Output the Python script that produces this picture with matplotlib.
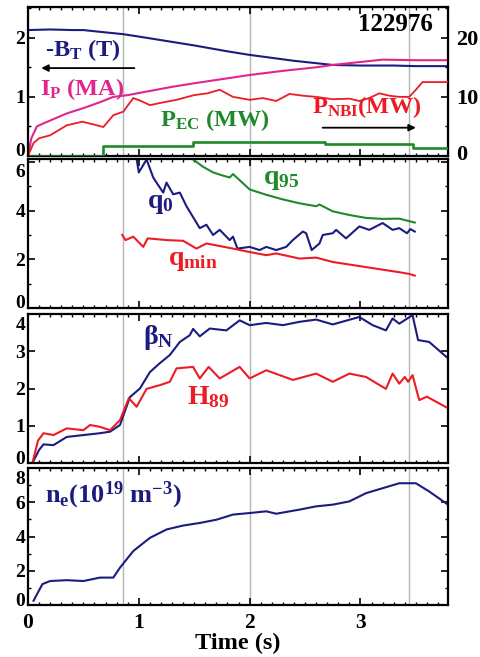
import matplotlib
matplotlib.use('Agg')
import matplotlib.pyplot as plt
from matplotlib.ticker import MultipleLocator
from matplotlib.transforms import ScaledTranslation

plt.rcParams['font.family'] = 'serif'
plt.rcParams['font.serif'] = ['Liberation Serif', 'DejaVu Serif']
plt.rcParams['font.weight'] = 'bold'
plt.rcParams['mathtext.fontset'] = 'custom'
plt.rcParams['mathtext.rm'] = 'Liberation Serif:bold'
plt.rcParams['mathtext.it'] = 'Liberation Serif:italic:bold'
plt.rcParams['mathtext.bf'] = 'Liberation Serif:bold'

NAVY = '#1c1c7e'
MAGENTA = '#e0268c'
RED = '#ec1c24'
GREEN = '#1f8a2a'
GRAY = '#b4b4b4'

# ---- panel 1: toroidal field, plasma current, heating powers ----
bt_t = [0.0, 0.2, 0.4, 0.5, 0.6, 0.86, 1.0, 1.2, 1.5, 1.8, 2.0, 2.2, 2.4, 2.6, 2.75, 3.0, 3.3, 3.5, 3.79]
bt_v = [2.13, 2.14, 2.13, 2.13, 2.11, 2.06, 2.02, 1.96, 1.87, 1.77, 1.71, 1.66, 1.61, 1.57, 1.54, 1.53, 1.53, 1.52, 1.52]

ip_t = [0.0, 0.03, 0.08, 0.15, 0.25, 0.35, 0.5, 0.65, 0.77, 0.9, 1.1, 1.3, 1.5, 1.75, 2.0, 2.3, 2.6, 2.75, 3.0, 3.2, 3.5, 3.79]
ip_v = [0.0, 0.3, 0.5, 0.56, 0.64, 0.72, 0.81, 0.91, 1.0, 1.03, 1.1, 1.17, 1.23, 1.3, 1.37, 1.44, 1.5, 1.54, 1.59, 1.63, 1.62, 1.62]

# right axis, MW
nbi_t = [0.0, 0.05, 0.1, 0.2, 0.35, 0.49, 0.6, 0.68, 0.77, 0.86, 0.95, 1.02, 1.1, 1.2, 1.34, 1.5, 1.62, 1.73, 1.85, 2.0,
         2.12, 2.24, 2.36, 2.48, 2.6, 2.75, 2.9, 2.99, 3.08, 3.17, 3.26, 3.35, 3.44, 3.5, 3.56, 3.79]
nbi_v = [0.0, 2.2, 3.0, 3.5, 5.2, 5.8, 5.3, 4.9, 6.9, 7.5, 9.8, 9.3, 8.6, 9.0, 9.5, 10.3, 10.6, 11.2, 10.0, 9.5,
         9.8, 9.3, 10.5, 10.2, 10.0, 9.6, 9.7, 9.3, 9.8, 10.6, 10.2, 10.0, 10.0, 11.2, 12.5, 12.5]

ec_t = [0.0, 0.68, 0.68, 1.49, 1.49, 2.68, 2.68, 3.47, 3.47, 3.79]
ec_v = [0.0, 0.0, 1.7, 1.7, 2.3, 2.3, 2.0, 2.0, 1.3, 1.3]

# ---- panel 2: safety factor ----
q95_t = [1.49, 1.58, 1.67, 1.75, 1.82, 1.85, 2.0, 2.15, 2.3, 2.45, 2.6, 2.63, 2.75, 2.9, 3.05, 3.2, 3.35, 3.49]
q95_v = [6.1, 5.8, 5.57, 5.45, 5.36, 5.5, 4.87, 4.65, 4.46, 4.3, 4.18, 4.25, 3.97, 3.82, 3.7, 3.66, 3.67, 3.51]

q0_t = [0.98, 1.0, 1.07, 1.13, 1.17, 1.22, 1.25, 1.31, 1.37, 1.43, 1.55, 1.61, 1.67, 1.73, 1.82, 1.85, 1.89, 2.0,
        2.09, 2.15, 2.24, 2.33, 2.39, 2.48, 2.51, 2.56, 2.63, 2.66, 2.75, 2.78, 2.87, 2.99, 3.08, 3.2, 3.29, 3.35,
        3.42, 3.45, 3.49]
q0_v = [6.13, 5.57, 6.1, 5.36, 5.08, 4.74, 5.15, 4.67, 4.74, 4.18, 3.28, 3.42, 3.0, 3.21, 2.79, 2.93, 2.44, 2.51,
        2.38, 2.51, 2.38, 2.51, 2.79, 3.14, 3.07, 2.38, 2.65, 3.0, 3.07, 3.21, 2.86, 3.35, 3.21, 3.49, 3.21, 3.28,
        3.07, 3.24, 3.14]

qmin_t = [0.85, 0.88, 0.95, 1.04, 1.08, 1.25, 1.4, 1.52, 1.61, 1.85, 2.0, 2.15, 2.24, 2.45, 2.6, 2.75, 3.05, 3.35, 3.44, 3.49]
qmin_v = [3.0, 2.79, 2.93, 2.51, 2.86, 2.79, 2.76, 2.44, 2.65, 2.44, 2.3, 2.17, 2.24, 2.03, 2.07, 1.89, 1.68, 1.47, 1.4, 1.33]

# ---- panel 3: normalised beta and confinement factor ----
bn_t = [0.04, 0.1, 0.14, 0.23, 0.35, 0.5, 0.65, 0.74, 0.83, 0.92, 1.01, 1.1, 1.19, 1.28, 1.37, 1.46, 1.49, 1.55, 1.64,
        1.79, 1.91, 2.0, 2.15, 2.3, 2.45, 2.6, 2.75, 2.99, 3.11, 3.23, 3.29, 3.35, 3.47, 3.52, 3.62, 3.79]
bn_v = [0.0, 0.35, 0.5, 0.48, 0.7, 0.75, 0.8, 0.84, 1.02, 1.77, 2.0, 2.44, 2.68, 2.9, 3.25, 3.43, 3.6, 3.4, 3.61,
        3.56, 3.83, 3.7, 3.76, 3.7, 3.79, 3.85, 3.72, 3.92, 3.7, 3.56, 3.88, 3.74, 3.97, 3.3, 3.25, 2.81]

h89_t = [0.04, 0.09, 0.14, 0.23, 0.35, 0.5, 0.56, 0.65, 0.74, 0.83, 0.91, 0.98, 1.07, 1.19, 1.28, 1.34, 1.49, 1.55,
         1.63, 1.73, 1.91, 2.0, 2.15, 2.39, 2.6, 2.75, 2.9, 3.05, 3.23, 3.29, 3.35, 3.4, 3.43, 3.47, 3.53, 3.6, 3.79]
h89_v = [0.0, 0.6, 0.8, 0.75, 0.93, 0.88, 1.02, 0.97, 0.88, 1.15, 1.74, 1.51, 1.99, 2.09, 2.18, 2.54, 2.58, 2.27,
         2.58, 2.27, 2.58, 2.27, 2.49, 2.23, 2.4, 2.18, 2.4, 2.31, 1.99, 2.4, 2.13, 2.31, 2.18, 2.36, 1.69, 1.78, 1.47]

# ---- panel 4: electron density ----
ne_t = [0.05, 0.13, 0.2, 0.35, 0.5, 0.65, 0.77, 0.83, 0.95, 1.1, 1.25, 1.4, 1.55, 1.7, 1.85, 2.0, 2.15, 2.24, 2.45,
        2.6, 2.75, 2.9, 3.05, 3.2, 3.35, 3.5, 3.62, 3.79]
ne_v = [0.25, 1.22, 1.4, 1.45, 1.4, 1.6, 1.6, 2.18, 3.15, 3.92, 4.41, 4.64, 4.79, 4.98, 5.28, 5.37, 5.47, 5.33, 5.57,
        5.76, 5.86, 6.05, 6.53, 6.82, 7.11, 7.11, 6.63, 5.86]

event_times = [0.86, 2.0, 3.44]
x_ticks = [0, 1, 2, 3]

W, H = 481, 657
fig = plt.figure(figsize=(W / 100, H / 100), dpi=100)


def add_panel(top, bottom):
    return fig.add_axes([28 / W, (H - bottom) / H, 420 / W, (bottom - top) / H])


def nudge(lab, dy):
    # shift a tick label by dy pixels (positive = up)
    lab.set_transform(lab.get_transform() + ScaledTranslation(0, dy / 100, fig.dpi_scale_trans))


def style(ax, yticks, yminor, labels_bottom=False, right=True, top_nudge=True):
    ax.set_xlim(0, 3.79)
    ax.set_xticks(x_ticks)
    ax.xaxis.set_minor_locator(MultipleLocator(0.1))
    ax.set_yticks(yticks)
    if yminor:
        ax.yaxis.set_minor_locator(MultipleLocator(yminor))
    ax.tick_params(which='both', direction='in', top=True, right=right, labelsize=14, pad=2)
    ax.tick_params(which='major', length=5, width=1.2)
    ax.tick_params(which='minor', length=2, width=1)
    ax.tick_params(axis='x', labelbottom=labels_bottom, pad=6, labelsize=15.5)
    for s in ax.spines.values():
        s.set_linewidth(1.6)
    for t in event_times:
        ax.axvline(t, color=GRAY, lw=1, zorder=0)
    labs = ax.get_yticklabels()
    for lab in labs + ax.get_xticklabels():
        lab.set_fontweight('bold')
    nudge(labs[0], 6)
    if top_nudge:
        nudge(labs[-1], -9)


ax1 = add_panel(7, 156)
ax2 = add_panel(159, 308)
ax3 = add_panel(314, 463)
ax4 = add_panel(468, 605)

# panel 1
ax1.set_ylim(0, 2.52)
style(ax1, [0, 1, 2], 0.5, right=False, top_nudge=False)
ax1.plot(bt_t, bt_v, color=NAVY, lw=1.5)
ax1.plot(ip_t, ip_v, color=MAGENTA, lw=1.5)
ax1r = ax1.twinx()
ax1r.set_ylim(0, 25.2)
ax1r.set_yticks([0, 10, 20])
ax1r.yaxis.set_minor_locator(MultipleLocator(5))
ax1r.tick_params(which='both', direction='in', labelsize=16, pad=6)
ax1r.tick_params(which='major', length=5, width=1.2)
ax1r.tick_params(which='minor', length=2, width=1)
for lab in ax1r.get_yticklabels():
    lab.set_fontweight('bold')
nudge(ax1r.get_yticklabels()[0], 4)
ax1r.plot(nbi_t, nbi_v, color=RED, lw=1.3)
ax1r.plot(ec_t, ec_v, color=GREEN, lw=1.9)
ax1.text(0.965, 0.88, '122976', transform=ax1.transAxes, ha='right', va='center', fontsize=18, color='black')
ax1.text(0.04, 0.71, r'-B$_\mathrm{T}$ (T)', transform=ax1.transAxes, ha='left', va='center', fontsize=17.5, color=NAVY)
ax1.annotate('', xy=(0.025, 0.59), xytext=(0.26, 0.59), xycoords='axes fraction',
             arrowprops=dict(arrowstyle='-|>', color='black', lw=1.3, mutation_scale=10))
ax1.text(0.028, 0.45, r'I$_\mathrm{P}$ (MA)', transform=ax1.transAxes, ha='left', va='center', fontsize=17.5, color=MAGENTA)
ax1.text(0.314, 0.24, r'P$_\mathrm{EC}$ (MW)', transform=ax1.transAxes, ha='left', va='center', fontsize=17.5, color=GREEN)
ax1.text(0.676, 0.33, r'P$_\mathrm{NBI}$(MW)', transform=ax1.transAxes, ha='left', va='center', fontsize=17.5, color=RED)
ax1.annotate('', xy=(0.93, 0.19), xytext=(0.695, 0.19), xycoords='axes fraction',
             arrowprops=dict(arrowstyle='-|>', color='black', lw=1.3, mutation_scale=10))

# panel 2
ax2.set_ylim(0, 6.12)
style(ax2, [0, 2, 4, 6], 1)
ax2.plot(q95_t, q95_v, color=GREEN, lw=1.5)
ax2.plot(q0_t, q0_v, color=NAVY, lw=1.5)
ax2.plot(qmin_t, qmin_v, color=RED, lw=1.5)
ax2.text(0.56, 0.86, r'q$_\mathrm{95}$', transform=ax2.transAxes, ha='left', va='center', fontsize=20, color=GREEN)
ax2.text(0.283, 0.70, r'q$_\mathrm{0}$', transform=ax2.transAxes, ha='left', va='center', fontsize=20, color=NAVY)
ax2.text(0.333, 0.32, r'q$_\mathrm{min}$', transform=ax2.transAxes, ha='left', va='center', fontsize=20, color=RED)

# panel 3
ax3.set_ylim(0, 4.0)
style(ax3, [0, 1, 2, 3, 4], None)
ax3.plot(bn_t, bn_v, color=NAVY, lw=1.5)
ax3.plot(h89_t, h89_v, color=RED, lw=1.5)
ax3.text(0.274, 0.84, r'$\mathrm{\beta}_\mathrm{N}$', transform=ax3.transAxes, ha='left', va='center', fontsize=20, color=NAVY)
ax3.text(0.379, 0.44, r'H$_\mathrm{89}$', transform=ax3.transAxes, ha='left', va='center', fontsize=20, color=RED)

# panel 4
ax4.set_ylim(0, 8.0)
style(ax4, [0, 2, 4, 6, 8], 1, labels_bottom=True)
ax4.plot(ne_t, ne_v, color=NAVY, lw=1.5)
ax4.text(0.04, 0.80, r'n$_\mathrm{e}$(10$^\mathrm{19}$ m$^{\mathrm{-3}}$)', transform=ax4.transAxes,
         ha='left', va='center', fontsize=19, color=NAVY)
ax4.set_xlabel('Time (s)', fontsize=17.5, fontweight='bold', labelpad=0)

fig.savefig('out.png', dpi=100, facecolor='white')
